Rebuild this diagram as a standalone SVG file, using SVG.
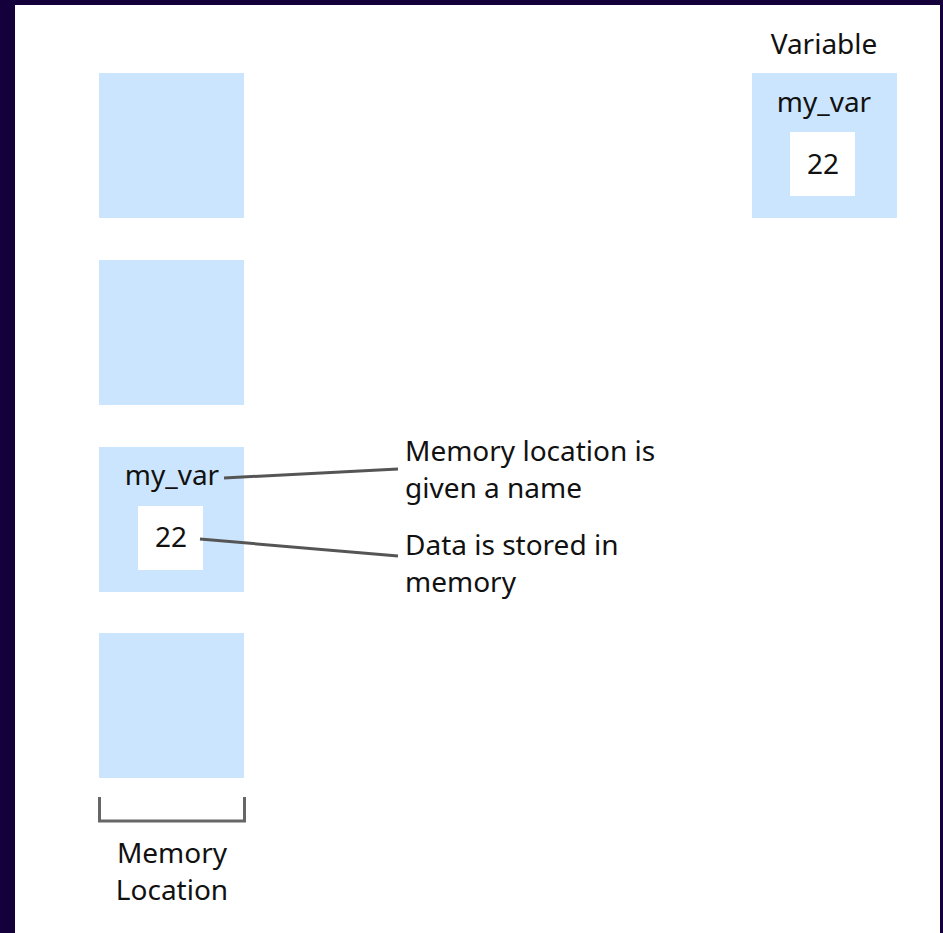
<svg xmlns="http://www.w3.org/2000/svg" width="943" height="933" viewBox="0 0 943 933">
<style>
.cell{fill:#cce5fe}
.inner{fill:#ffffff}
.t{font-family:"Noto Sans","Open Sans",sans-serif;font-size:28px;fill:#111}
.c{text-anchor:middle}
.conn{stroke:#555;stroke-width:3;fill:none}
</style>
<rect x="0" y="0" width="943" height="933" fill="#14003a"/>
<rect x="15" y="5" width="925" height="928" fill="#ffffff"/>
<g id="mem1"><rect class="cell" x="99" y="73" width="145" height="145"/></g>
<g id="mem2"><rect class="cell" x="99" y="260" width="145" height="145"/></g>
<g id="mem3">
<rect class="cell" x="99" y="447" width="145" height="145"/>
<text class="t c" x="172" y="485">my_var</text>
<rect class="inner" x="138" y="506" width="65" height="64"/>
<text class="t c" x="171" y="547">22</text>
</g>
<g id="mem4"><rect class="cell" x="99" y="633" width="145" height="145"/></g>
<g id="variable">
<text class="t c" x="824" y="54">Variable</text>
<rect class="cell" x="752" y="73" width="145" height="145"/>
<text class="t c" x="824" y="112">my_var</text>
<rect class="inner" x="790" y="132" width="65" height="64"/>
<text class="t c" x="823" y="174">22</text>
</g>
<g id="label-name">
<text class="t" x="405" y="461">Memory location is</text>
<text class="t" x="405" y="498">given a name</text>
</g>
<g id="label-data">
<text class="t" x="405" y="555">Data is stored in</text>
<text class="t" x="405" y="592">memory</text>
</g>
<g id="memory-location">
<path d="M99.5 797 V821 H244.5 V797" stroke="#666" stroke-width="3" fill="none"/>
<text class="t c" x="172" y="863">Memory</text>
<text class="t c" x="172" y="900">Location</text>
</g>
<g id="connectors">
<line class="conn" x1="224" y1="478" x2="398" y2="469"/>
<line class="conn" x1="200" y1="539" x2="398" y2="556"/>
</g>
</svg>
